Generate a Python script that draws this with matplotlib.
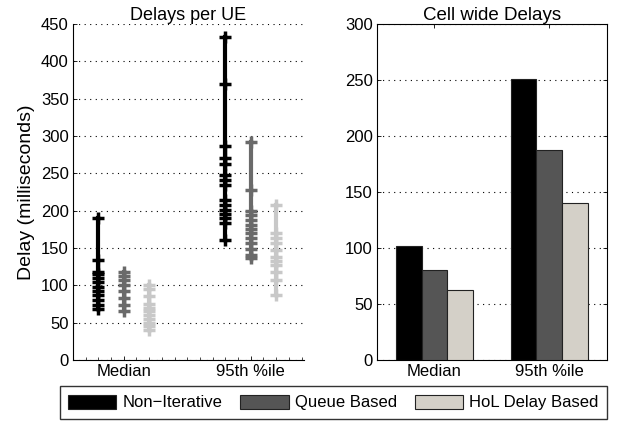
import numpy as np
import matplotlib
matplotlib.use('Agg')
import matplotlib.pyplot as plt
from matplotlib.patches import Patch

plt.rcParams['font.family'] = ['Liberation Sans', 'DejaVu Sans']
plt.rcParams['font.size'] = 12

#%% Data
groups = ['Median', '95th %ile']
schemes = ['Non\u2212Iterative', 'Queue Based', 'HoL Delay Based']
colors = ['#000000', '#555555', '#d4d0c8']
line_colors = ['#000000', '#6a6a6a', '#c8c8c8']

# per-UE delays (ms)
med_noniter = [190, 134, 118, 115, 110, 105, 98, 93, 87, 80, 73, 68]
med_queue = [118, 113, 107, 100, 93, 83, 74, 66]
med_hol = [100, 95, 85, 75, 70, 65, 60, 55, 50, 45, 40]
p95_noniter = [433, 370, 286, 270, 263, 248, 241, 234, 214, 207, 201, 195, 190, 183, 161]
p95_queue = [292, 228, 200, 194, 188, 181, 176, 170, 163, 156, 149, 140, 136]
p95_hol = [207, 170, 163, 156, 147, 138, 132, 127, 118, 107, 87]

# cell wide delays (ms)
cell_median = [102, 80.5, 62.5]
cell_p95 = [251, 187, 140]

per_ue = [[med_noniter, med_queue, med_hol],
          [p95_noniter, p95_queue, p95_hol]]

#%% Figure
fig = plt.figure(figsize=(6.18, 4.26), dpi=100)
ax1 = fig.add_axes([0.118, 0.155, 0.374, 0.789])
ax2 = fig.add_axes([0.610, 0.155, 0.372, 0.789])

offsets = [-0.2, 0.0, 0.2]
for g, grp in enumerate(per_ue):
    for s, vals in enumerate(grp):
        x = g + 1 + offsets[s]
        ax1.plot([x, x], [min(vals), max(vals)], color=line_colors[s], lw=3, zorder=3)
        ax1.plot([x] * len(vals), vals, ls='none', marker='+', ms=8, mew=2.5,
                 color=line_colors[s], zorder=4)

ax1.set_xlim(0.6, 2.42)
ax1.set_ylim(0, 450)
ax1.set_yticks(np.arange(0, 451, 50))
ax1.set_xticks([1, 2])
ax1.set_xticklabels(groups)
ax1.set_xticks(np.arange(0.6, 2.42, 0.1), minor=True)
ax1.set_ylabel('Delay (milliseconds)', fontsize=14, labelpad=4)
ax1.set_title('Delays per UE', fontsize=13, pad=3)
ax1.yaxis.grid(True, ls=(0, (1, 4)), color='black', lw=0.8)
for sp in ['top', 'right']:
    ax1.spines[sp].set_visible(False)
ax1.tick_params(direction='in', length=3, width=0.6)
ax1.tick_params(which='minor', direction='in', length=2, width=0.5)

# cell wide bars
w = 0.225
xs = np.array([1, 2])
cell = np.array([cell_median, cell_p95])
for s in range(3):
    ax2.bar(xs + (s - 1) * w, cell[:, s], width=w, color=colors[s],
            edgecolor='#222222', lw=0.8, zorder=3)
ax2.set_xlim(0.5, 2.5)
ax2.set_ylim(0, 300)
ax2.set_yticks(np.arange(0, 301, 50))
ax2.set_xticks([1, 2])
ax2.set_xticklabels(groups)
ax2.set_title('Cell wide Delays', fontsize=13.5, pad=3)
ax2.yaxis.grid(True, ls=(0, (1, 4)), color='black', lw=0.8)
ax2.tick_params(direction='in', length=3, width=0.6, top=True, right=True)

for ax in (ax1, ax2):
    for sp in ax.spines.values():
        sp.set_linewidth(0.8)
    ax.tick_params(labelsize=12, pad=3)

handles = [Patch(facecolor=colors[i], edgecolor='#222222', lw=0.8) for i in range(3)]
leg = fig.legend(handles, schemes, loc='center right', bbox_to_anchor=(0.982, 0.055),
                 ncol=3, fontsize=12, frameon=True, fancybox=False,
                 handlelength=2.9, handleheight=0.9, handletextpad=0.35,
                 columnspacing=1.1, borderpad=0.5, borderaxespad=0,
                 edgecolor='black')
leg.get_frame().set_linewidth(1.0)

fig.savefig('out.png', dpi=100)
